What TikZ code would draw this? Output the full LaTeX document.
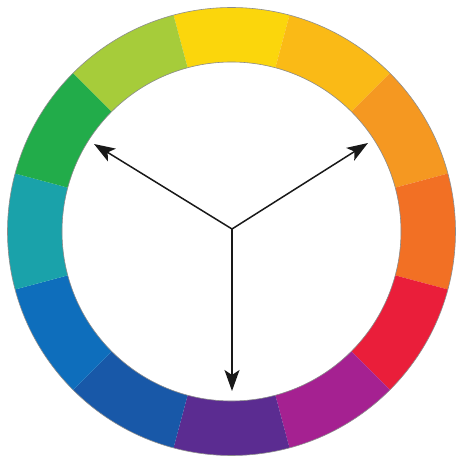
\documentclass[tikz,border=0pt]{standalone}
\usetikzlibrary{arrows.meta}
\definecolor{cY}{RGB}{251,214,12}
\definecolor{cYO}{RGB}{250,186,22}
\definecolor{cO}{RGB}{245,152,33}
\definecolor{cRO}{RGB}{242,112,36}
\definecolor{cR}{RGB}{234,30,58}
\definecolor{cRV}{RGB}{165,33,145}
\definecolor{cV}{RGB}{91,44,145}
\definecolor{cBV}{RGB}{24,88,168}
\definecolor{cB}{RGB}{14,110,188}
\definecolor{cBG}{RGB}{26,162,170}
\definecolor{cG}{RGB}{34,172,74}
\definecolor{cYG}{RGB}{166,204,58}
\tikzset{
  pointer/.style={line width=1.5pt, draw=black!90, -{Stealth[length=21pt,width=15pt,inset=5pt]}},
  rim/.style={draw=black!45, line width=0.6pt}
}
\begin{document}
\begin{tikzpicture}[x=1pt,y=1pt]
\useasboundingbox (0,0) rectangle (456,459);
\fill[white] (0,0) rectangle (456,459);
\coordinate (c) at (231.5,227.5);
\def\Ro{224}
\def\Ri{169.5}
\foreach \col [count=\i from 0] in {cY,cYO,cO,cRO,cR,cRV,cV,cBV,cB,cBG,cG,cYG}{
  \pgfmathsetmacro{\aa}{105-30*\i}
  \pgfmathsetmacro{\ab}{75-30*\i}
  \fill[\col] ([shift={(\aa:\Ro)}]c) arc (\aa:\ab:\Ro) -- ([shift={(\ab:\Ri)}]c) arc (\ab:\aa:\Ri) -- cycle;
}
\draw[rim] (c) circle (\Ro);
\draw[rim] (c) circle (\Ri);
\coordinate (hub) at (232,230);
\coordinate (tl) at (94,315);
\coordinate (tr) at (368,316);
\coordinate (tb) at (232,68);
\draw[pointer] (hub) -- (tl);
\draw[pointer] (hub) -- (tr);
\draw[pointer] (hub) -- (tb);
\end{tikzpicture}
\end{document}
